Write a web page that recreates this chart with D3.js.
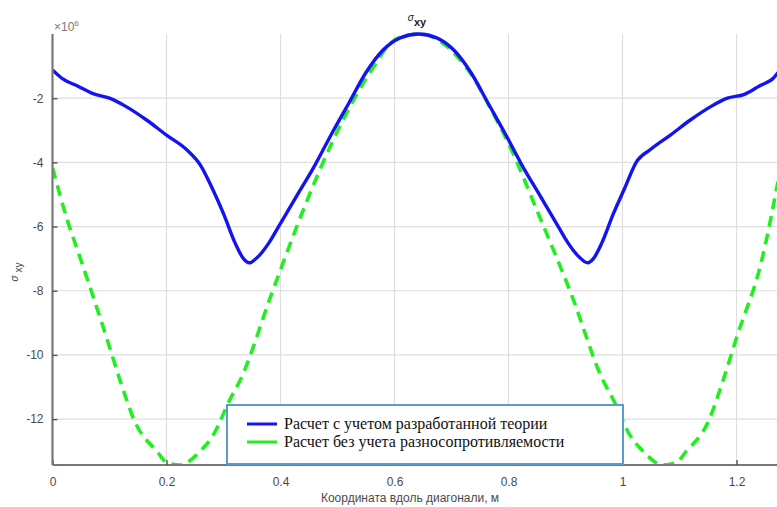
<!DOCTYPE html>
<html>
<head>
<meta charset="utf-8">
<script src="https://cdn.jsdelivr.net/npm/d3@7/dist/d3.min.js"></script>
<style>
  html, body { margin: 0; padding: 0; background: #fff; }
  svg { display: block; }
</style>
</head>
<body>
<svg id="chart" width="777" height="507"></svg>
<script>
// Shear stress sigma_xy along the plate diagonal, units of 1e6
const xTicks = [0, 0.2, 0.4, 0.6, 0.8, 1, 1.2];
const yTicks = [-12, -10, -8, -6, -4, -2];
const xDomain = [0, 1.2728];
const yDomain = [-13.43, 0];

// Developed theory (solid blue)
const theoryX = [0.000, 0.018, 0.044, 0.070, 0.100, 0.130, 0.165, 0.200, 0.235, 0.260, 0.280, 0.300, 0.320, 0.335, 0.345, 0.360, 0.380, 0.400, 0.430, 0.460, 0.490, 0.520, 0.550, 0.580, 0.610, 0.642,
                 0.674, 0.704, 0.734, 0.764, 0.794, 0.824, 0.854, 0.884, 0.904, 0.924, 0.939, 0.949, 0.964, 0.984, 1.004, 1.024, 1.049, 1.084, 1.119, 1.154, 1.184, 1.214, 1.240, 1.266, 1.2728];
const theoryY = [-1.12, -1.40, -1.62, -1.85, -2.00, -2.27, -2.68, -3.15, -3.60, -4.10, -4.80, -5.60, -6.50, -7.00, -7.13, -6.95, -6.50, -5.90, -5.00, -4.10, -3.10, -2.15, -1.20, -0.50, -0.12, 0.00,
                 -0.12, -0.50, -1.20, -2.15, -3.10, -4.10, -5.00, -5.90, -6.50, -6.95, -7.13, -7.00, -6.50, -5.60, -4.80, -4.00, -3.60, -3.15, -2.68, -2.27, -2.00, -1.88, -1.62, -1.35, -1.20];

// Without tension-compression asymmetry (dashed green)
const classicX = [0.000, 0.026, 0.050, 0.095, 0.118, 0.145, 0.183, 0.201, 0.224, 0.259, 0.282, 0.311, 0.329, 0.385, 0.445, 0.490, 0.530, 0.568, 0.589, 0.610, 0.645,
                  0.680, 0.710, 0.740, 0.765, 0.805, 0.850, 0.910, 0.966, 0.984, 1.013, 1.036, 1.071, 1.094, 1.112, 1.150, 1.177, 1.200, 1.245, 1.2728];
const classicY = [-4.17, -5.80, -7.05, -9.47, -10.76, -12.10, -13.00, -13.36, -13.43, -13.00, -12.50, -11.40, -10.80, -8.07, -5.26, -3.40, -2.00, -0.90, -0.35, -0.10, 0.00,
                  -0.22, -0.70, -1.40, -2.20, -3.60, -5.50, -8.10, -10.80, -11.40, -12.50, -13.00, -13.43, -13.36, -13.00, -12.10, -10.76, -9.47, -7.00, -4.60];

const legendLabels = ["Расчет с учетом разработанной теории", "Расчет без учета разносопротивляемости"];
const seriesColors = ["#1414f0", "#22ee22"];

const svg = d3.select("#chart");
const plotLeft = 52.5, plotTop = 34, plotBottom = 465, plotRight = 778;

const x = d3.scaleLinear().domain(xDomain).range([plotLeft, plotRight]);
const y = d3.scaleLinear().domain(yDomain).range([plotBottom, plotTop]);

// Grid
const grid = svg.append("g").attr("stroke", "#dedede").attr("stroke-width", 1.2);
grid.selectAll("line.gx").data(xTicks.filter(d => d > 0)).join("line")
  .attr("x1", d => x(d)).attr("x2", d => x(d)).attr("y1", plotTop).attr("y2", plotBottom);
grid.selectAll("line.gy").data(yTicks).join("line")
  .attr("x1", plotLeft).attr("x2", 777).attr("y1", d => y(d)).attr("y2", d => y(d));

svg.append("defs").append("clipPath").attr("id", "plotClip")
  .append("rect").attr("x", plotLeft).attr("y", plotTop - 4).attr("width", plotRight - plotLeft).attr("height", plotBottom - plotTop + 4);

const line = d3.line().x(d => x(d[0])).y(d => y(d[1])).curve(d3.curveMonotoneX);
const plot = svg.append("g").attr("clip-path", "url(#plotClip)");

plot.append("path")
  .datum(classicX.map((v, i) => [v, classicY[i]]))
  .attr("d", line).attr("fill", "none")
  .attr("stroke", seriesColors[1]).attr("stroke-width", 3.6)
  .attr("stroke-dasharray", "11 7");

plot.append("path")
  .datum(theoryX.map((v, i) => [v, theoryY[i]]))
  .attr("d", line).attr("fill", "none")
  .attr("stroke", seriesColors[0]).attr("stroke-width", 3.4);

// Axes
const axisColor = "#777";
const xAxis = d3.axisBottom(x).tickValues(xTicks).tickSizeInner(-5).tickSizeOuter(0).tickPadding(12)
  .tickFormat(d => d3.format("")(d));
const gx = svg.append("g").attr("transform", `translate(0,${plotBottom})`).call(xAxis);
const yAxis = d3.axisLeft(y).tickValues(yTicks).tickSizeInner(-5).tickSizeOuter(0).tickPadding(9)
  .tickFormat(d => String(d));
const gy = svg.append("g").attr("transform", `translate(${plotLeft},0)`).call(yAxis);

[gx, gy].forEach(g => {
  g.select(".domain").attr("stroke", axisColor).attr("stroke-width", 2.2);
  g.selectAll(".tick line").attr("stroke", "#555").attr("stroke-width", 1.4);
  g.selectAll(".tick text").attr("fill", "#4a4a4a")
    .style("font-family", "Arial, 'Liberation Sans', sans-serif").style("font-size", "12px");
});
gy.select(".domain").attr("d", `M0,${plotBottom}V${plotTop}`);
gx.select(".domain").attr("d", `M${plotLeft},0H${plotRight}`);

// Exponent label
const exp = svg.append("text").attr("x", 54).attr("y", 31)
  .attr("fill", "#777").style("font-family", "Arial, 'Liberation Sans', sans-serif").style("font-size", "12px");
exp.append("tspan").text("×10");
exp.append("tspan").attr("dy", -5).style("font-size", "8px").text("6");

// Title
const title = svg.append("text").attr("x", 417).attr("y", 21).attr("text-anchor", "middle")
  .style("font-family", "Arial, 'Liberation Sans', sans-serif").attr("fill", "#222");
title.append("tspan").style("font-style", "italic").style("font-size", "10px").text("σ");
title.append("tspan").attr("dy", 5).style("font-size", "11px").style("font-weight", "bold").text("xy");

// Y label
const yl = svg.append("text").attr("transform", "translate(18,272) rotate(-90)").attr("text-anchor", "middle")
  .style("font-family", "Arial, 'Liberation Sans', sans-serif").attr("fill", "#444");
yl.append("tspan").style("font-style", "italic").style("font-size", "10px").text("σ");
yl.append("tspan").attr("dy", 4).style("font-size", "10px").text(" xy");

// X label
svg.append("text").attr("x", 410).attr("y", 502).attr("text-anchor", "middle")
  .attr("fill", "#4a4a4a").style("font-family", "Arial, 'Liberation Sans', sans-serif").style("font-size", "12px")
  .text("Координата вдоль диагонали, м");

// Legend
const lg = svg.append("g");
lg.append("rect").attr("x", 227).attr("y", 405).attr("width", 396).attr("height", 59)
  .attr("fill", "#fff").attr("stroke", "#5b9bd5").attr("stroke-width", 2);
legendLabels.forEach((t, i) => {
  const ly = 424 + i * 18;
  lg.append("line").attr("x1", 247).attr("x2", 277).attr("y1", ly).attr("y2", ly)
    .attr("stroke", seriesColors[i]).attr("stroke-width", 3);
  lg.append("text").attr("x", 284).attr("y", ly + 5)
    .style("font-family", "'Liberation Serif', 'Times New Roman', serif").style("font-size", "16px")
    .attr("fill", "#111").text(t);
});
</script>
</body>
</html>
